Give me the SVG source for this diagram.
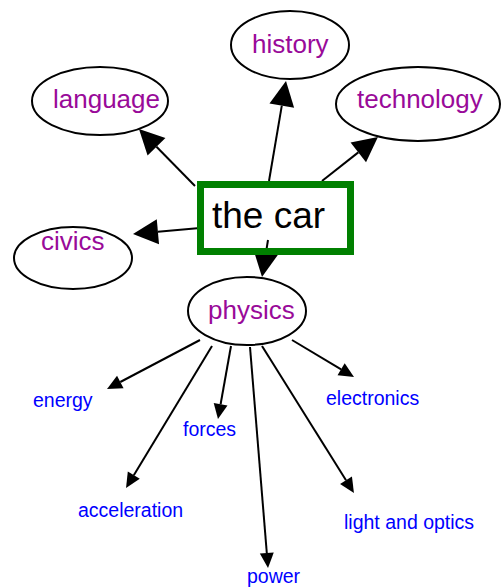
<svg xmlns="http://www.w3.org/2000/svg" width="501" height="588" viewBox="0 0 501 588">
  <defs>
    <marker id="big" markerUnits="userSpaceOnUse" markerWidth="25" markerHeight="25" refX="0" refY="12.5" orient="auto" overflow="visible">
      <path d="M0,0 L25,12.5 L0,25 Z" fill="#000"/>
    </marker>
    <marker id="small" markerUnits="userSpaceOnUse" markerWidth="15" markerHeight="14" refX="0" refY="7" orient="auto" overflow="visible">
      <path d="M0,0 L15,7 L0,14 Z" fill="#000"/>
    </marker>
    <style>
      .edge { stroke: #000; stroke-width: 2; fill: none; }
      .big { marker-end: url(#big); }
      .small { marker-end: url(#small); }
      .ell { fill: #fff; stroke: #000; stroke-width: 2; }
      .topic { font-family: "Liberation Sans", Arial, sans-serif; font-size: 26px; fill: #990a99; }
      .sub { font-family: "Liberation Sans", Arial, sans-serif; font-size: 19.5px; fill: #0000ff; }
      .main { font-family: "Liberation Sans", Arial, sans-serif; font-size: 37px; fill: #000; }
    </style>
  </defs>
  <rect width="501" height="588" fill="#fff"/>

  <g id="connectors">
    <line class="edge big" x1="195" y1="186" x2="156.5" y2="146.8"/>
    <line class="edge big" x1="269" y1="181" x2="281.8" y2="105.7"/>
    <line class="edge big" x1="322" y1="181" x2="358.3" y2="152.4"/>
    <line class="edge big" x1="200" y1="228" x2="157.9" y2="231.8"/>
    <line class="edge big" x1="268" y1="240" x2="266" y2="252.3"/>
    <line class="edge small" x1="200" y1="340" x2="120.3" y2="382"/>
    <line class="edge small" x1="212" y1="346" x2="133.8" y2="475.2"/>
    <line class="edge small" x1="231" y1="346" x2="220.6" y2="404.2"/>
    <line class="edge small" x1="250" y1="347" x2="266.8" y2="553"/>
    <line class="edge small" x1="262" y1="346" x2="346" y2="480.3"/>
    <line class="edge small" x1="292" y1="340" x2="341.1" y2="369.3"/>
  </g>

  <g id="the-car">
    <rect x="200.5" y="184.5" width="150" height="67" fill="none" stroke="#008000" stroke-width="7"/>
    <text class="main" x="212" y="228">the car</text>
  </g>

  <g id="history">
    <ellipse class="ell" cx="290" cy="45" rx="59" ry="34"/>
    <text class="topic" x="252" y="53">history</text>
  </g>
  <g id="language">
    <ellipse class="ell" cx="100" cy="101" rx="68" ry="34"/>
    <text class="topic" x="53" y="108">language</text>
  </g>
  <g id="technology">
    <ellipse class="ell" cx="418" cy="104" rx="82" ry="37"/>
    <text class="topic" x="357" y="108">technology</text>
  </g>
  <g id="civics">
    <ellipse class="ell" cx="73" cy="258" rx="59" ry="31"/>
    <text class="topic" x="41" y="250">civics</text>
  </g>
  <g id="physics">
    <ellipse class="ell" cx="247" cy="311" rx="59" ry="34"/>
    <text class="topic" x="208" y="319">physics</text>
  </g>

  <g id="energy"><text class="sub" x="33" y="407">energy</text></g>
  <g id="electronics"><text class="sub" x="326" y="405">electronics</text></g>
  <g id="forces"><text class="sub" x="183" y="436">forces</text></g>
  <g id="acceleration"><text class="sub" x="78" y="517">acceleration</text></g>
  <g id="light-and-optics"><text class="sub" x="344" y="529">light and optics</text></g>
  <g id="power"><text class="sub" x="247" y="583">power</text></g>
</svg>
